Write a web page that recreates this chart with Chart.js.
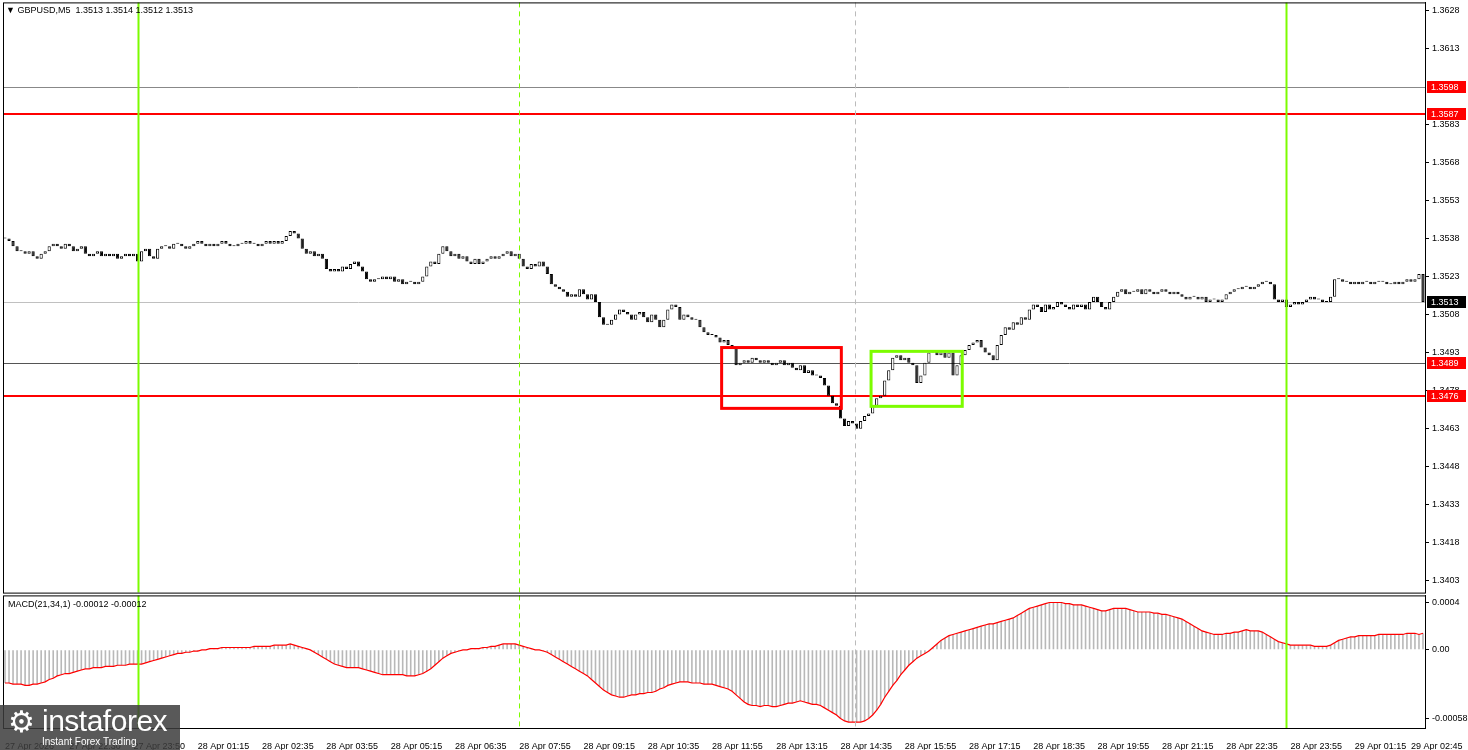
<!DOCTYPE html>
<html><head><meta charset="utf-8">
<script src="https://cdn.jsdelivr.net/npm/chart.js@4.4.1/dist/chart.umd.min.js"></script>
<style>
html,body{margin:0;padding:0;background:#fff;width:1468px;height:750px;overflow:hidden;font-family:"Liberation Sans",Arial,sans-serif;position:relative}
#c1{position:absolute;left:0;top:-6px}
#c2{position:absolute;left:0;top:587px}
.t{position:absolute;font-size:9px;color:#000;white-space:pre}
#logo{position:absolute;left:0;top:705px;width:180px;height:45px;background:rgba(60,60,60,0.85);color:#fff}
</style></head><body>
<canvas id="c1" width="1468" height="607"></canvas>
<canvas id="c2" width="1468" height="163"></canvas>
<div class="t" style="left:6px;top:5px">▼ GBPUSD,M5  1.3513 1.3514 1.3512 1.3513</div>
<div class="t" style="left:8px;top:599px">MACD(21,34,1) -0.00012 -0.00012</div>
<div id="logo"><div style="position:absolute;left:8px;top:2px;font-size:30px;line-height:30px">⚙</div><div style="position:absolute;left:42px;top:0px;font-size:30px;line-height:32px;letter-spacing:-0.5px">instaforex</div><div style="position:absolute;left:42px;top:31px;font-size:10px">Instant Forex Trading</div></div>
<script>
const closes=[1.3538,1.3537,1.3535,
1.3533,1.3533,1.3532,1.3533,1.3531,1.3530,1.3532,1.3533,
1.3535,1.3536,1.3535,1.3534,1.3536,1.3535,1.3533,1.3534,1.3535,
1.3532,1.3531,1.3532,1.3533,1.3531,1.3532,1.3531,1.3532,1.3530,1.3531,1.3532,1.3531,1.3532,1.3529,
1.3533,1.3534,1.3531,1.3530,
1.3534,1.3535,1.3535,1.3534,1.3536,1.3536,1.3535,1.3534,1.3535,1.3536,1.3537,1.3536,1.3535,1.3536,1.3535,1.3536,1.3537,1.3536,1.3535,1.3535,1.3536,1.3536,1.3537,1.3536,1.3536,1.3535,1.3536,1.3537,1.3536,1.3537,1.3536,1.3537,
1.3539,1.3541,1.3540,1.3538,
1.3534,1.3532,1.3533,1.3531,1.3532,1.3530,
1.3526,1.3525,1.3526,1.3525,1.3527,1.3526,
1.3528,1.3529,1.3527,1.3525,
1.3522,1.3521,1.3522,1.3522,1.3523,1.3522,1.3523,1.3521,1.3522,1.3520,1.3521,1.3521,1.3520,1.3521,1.3523,
1.3527,1.3529,1.3528,1.3532,1.3535,
1.3533,1.3531,1.3532,1.3530,1.3531,1.3529,1.3528,1.3530,1.3528,1.3529,1.3530,1.3531,1.3530,1.3531,1.3532,1.3533,1.3531,1.3532,
1.3530,1.3527,1.3526,1.3528,1.3527,1.3529,1.3527,1.3524,
1.3520,1.3519,1.3518,1.3517,1.3515,
1.3516,1.3515,1.3518,1.3516,1.3514,1.3516,1.3513,
1.3507,1.3504,1.3504,1.3506,1.3508,1.3510,
1.3509,1.3508,1.3506,1.3508,1.3509,1.3507,1.3505,1.3508,1.3506,1.3503,1.3506,1.3510,1.3512,
1.3511,1.3506,1.3508,1.3507,1.3506,1.3506,
1.3503,1.3501,1.3500,1.3500,1.3499,1.3497,1.3498,1.3496,1.3495,
1.3488,1.3489,1.3490,1.3489,1.3491,1.3490,1.3489,1.3490,1.3489,1.3488,1.3489,1.3490,1.3488,1.3489,1.3487,1.3486,1.3488,1.3485,1.3486,1.3484,
1.3484,1.3483,1.3480,1.3476,1.3473,1.3472,
1.3467,1.3464,1.3466,1.3465,1.3463,1.3466,1.3468,1.3469,
1.3472,1.3475,1.3476,1.3482,1.3486,
1.3491,1.3492,1.3490,1.3491,1.3489,1.3488,1.3481,1.3484,
1.3489,1.3493,1.3494,1.3492,1.3493,1.3491,1.3493,1.3484,1.3488,
1.3492,1.3494,1.3496,1.3497,1.3498,1.3495,1.3493,1.3492,1.3490,1.3496,
1.3500,1.3503,1.3502,1.3505,1.3504,1.3507,1.3506,1.3510,
1.3512,1.3511,1.3509,1.3512,1.3510,1.3511,1.3513,1.3512,1.3511,1.3510,1.3512,1.3511,1.3512,1.3510,1.3513,1.3515,
1.3513,1.3511,1.3510,1.3513,1.3515,1.3517,1.3518,1.3516,1.3517,
1.3517,1.3518,1.3516,1.3518,1.3517,1.3516,1.3517,1.3518,1.3517,1.3516,1.3517,1.3516,
1.3515,1.3514,1.3515,1.3515,1.3514,1.3515,1.3513,1.3514,1.3514,1.3513,1.3514,1.3516,1.3517,
1.3518,1.3518,1.3519,1.3519,1.3518,1.3519,1.3520,1.3521,1.3521,1.3520,1.3514,
1.3513,1.3514,1.3511,1.3512,1.3513,1.3512,1.3513,1.3514,1.3515,1.3514,1.3514,1.3513,1.3513,1.3515,
1.3522,1.3522,1.3521,1.3521,1.3520,1.3521,1.3520,1.3521,1.3521,1.3520,1.3521,1.3521,1.3521,1.3520,1.3520,1.3521,1.3520,1.3521,1.3522,1.3521,1.3522,1.3524,
1.3513];
const macdE5=[-28,-28,-29,-29,-29,-30,-30,-29,-29,
-28,-27,-25,-24,-22,-21,-20,-20,
-19,-18,-17,-16,-16,-15,-15,-15,-14,-14,-14,-13,-13,-13,-12,-12,-12,
-12,-11,-10,-9,-8,-7,-6,-5,-4,-3,-3,-2,-2,-1,-1,0,
0,1,1,1,2,2,2,2,2,2,2,2,3,3,3,3,3,4,4,4,4,5,4,
3,2,1,0,-2,-4,-6,-8,-10,-12,-13,-14,-15,-15,
-15,-15,-16,-17,-18,-19,-20,-21,-21,-21,-21,-21,-21,-22,-22,-22,-21,-20,
-18,-16,-13,-10,-7,-5,-3,-2,-1,0,0,1,
1,1,2,2,3,3,4,5,5,5,5,4,
3,2,1,0,0,-1,-2,-4,-6,-8,-10,-12,
-14,-16,-18,-20,-22,-25,-28,-31,-34,-36,-38,-39,
-40,-40,-39,-38,-38,-37,-37,-36,-36,-35,-33,-32,-30,-29,-28,-27,
-27,-27,-28,-28,-28,-29,-29,-29,-30,-31,-32,-33,-35,
-38,-41,-44,-46,-47,-47,-48,-47,-47,-48,-48,-47,-46,-45,-45,-44,
-43,-44,-45,-46,-46,-47,-49,-51,-53,-55,-58,-60,-61,-61,-61,-61,-60,
-58,-55,-51,-46,-40,-35,-30,-26,-21,-17,-13,-10,-7,-5,
-3,-1,2,5,8,10,12,13,14,15,16,17,
18,19,20,21,22,22,23,24,25,26,27,29,31,33,35,36,
37,38,39,40,40,40,40,39,39,38,38,38,37,36,35,34,
33,33,34,35,35,35,35,34,33,32,32,32,32,31,31,30,30,29,28,27,
26,24,22,20,18,16,15,14,13,13,13,14,14,15,15,16,17,16,
16,16,15,13,11,9,7,6,5,4,4,4,4,4,4,3,3,3,
3,4,6,8,9,10,11,11,12,12,12,12,12,13,13,13,13,13,13,13,14,14,14,13,14];
const timeLabels={0:"27 Apr 2026",16:"27 Apr 22:30",32:"27 Apr 23:50",48:"28 Apr 01:15",64:"28 Apr 02:35",80:"28 Apr 03:55",96:"28 Apr 05:15",112:"28 Apr 06:35",128:"28 Apr 07:55",144:"28 Apr 09:15",160:"28 Apr 10:35",176:"28 Apr 11:55",192:"28 Apr 13:15",208:"28 Apr 14:35",224:"28 Apr 15:55",240:"28 Apr 17:15",256:"28 Apr 18:35",272:"28 Apr 19:55",288:"28 Apr 21:15",304:"28 Apr 22:35",320:"28 Apr 23:55",336:"29 Apr 01:15",350:"29 Apr 02:45"};
const priceTicks=[1.3628,1.3613,1.3583,1.3568,1.3553,1.3538,1.3523,1.3508,1.3493,1.3478,1.3463,1.3448,1.3433,1.3418,1.3403];
const macdTicks=[0.0004,0,-0.00058];
const levels=[{v:1.3598,c:'#888',w:1},{v:1.3587,c:'#ff0000',w:2},{v:1.3489,c:'#555',w:1},{v:1.3476,c:'#ff0000',w:2},{v:1.3513,c:'#c0c0c0',w:1}];
const axisMarks=[{v:1.3598,bg:'#ff0000'},{v:1.3587,bg:'#ff0000'},{v:1.3489,bg:'#ff0000'},{v:1.3476,bg:'#ff0000'},{v:1.3513,bg:'#000'}];
const boxes=[{i0:178.4,i1:208.2,hi:1.34950,lo:1.34710,c:'#ff0000'},{i0:215.6,i1:238.3,hi:1.34935,lo:1.34718,c:'#7cfc00'}];
const vlines=[{i:33.2,c:'#7cfc00',dash:[],w:2},{i:127.9,c:'#7cfc00',dash:[5,4],w:1},{i:211.5,c:'#bbb',dash:[5,4],w:1},{i:318.8,c:'#7cfc00',dash:[],w:2}];

const N=Math.min(closes.length,macdE5.length);
const labels=[];for(let i=0;i<N;i++)labels.push(timeLabels[i]||'');
const bodies=[],bodyCol=[];
for(let i=0;i<N;i++){const o=i?closes[i-1]:closes[0];bodies.push([o,closes[i]]);bodyCol.push(closes[i]>o?'#fff':'#000');}
const macd=macdE5.slice(0,N).map(v=>v/100000);
const FONT={family:'"Liberation Sans", Arial',size:9};

function xFor(chart,i){const s=chart.scales.x;const a=s.getPixelForValue(Math.floor(i)),b=s.getPixelForValue(Math.floor(i)+1);return a+(b-a)*(i-Math.floor(i));}
const vlinePlugin={id:'vl',afterDatasetsDraw(chart){const ctx=chart.ctx,ca=chart.chartArea;ctx.save();
 for(const v of vlines){const x=Math.round(xFor(chart,v.i))+0.5;ctx.strokeStyle=v.c;ctx.lineWidth=v.w;ctx.setLineDash(v.dash);ctx.beginPath();ctx.moveTo(x,ca.top);ctx.lineTo(x,ca.bottom);ctx.stroke();}
 ctx.setLineDash([]);ctx.strokeStyle='#000';ctx.lineWidth=1;ctx.strokeRect(ca.left+0.5,ca.top+0.5,ca.right-ca.left,ca.bottom-ca.top);ctx.restore();}};
const mainPlugin={id:'mp',beforeDatasetsDraw(chart){const ctx=chart.ctx,ca=chart.chartArea,y=chart.scales.y;ctx.save();
 for(const l of levels){const py=Math.round(y.getPixelForValue(l.v))+(l.w===1?0.5:0);ctx.strokeStyle=l.c;ctx.lineWidth=l.w;ctx.beginPath();ctx.moveTo(ca.left,py);ctx.lineTo(ca.right,py);ctx.stroke();}
 ctx.restore();},
 afterDatasetsDraw(chart){const ctx=chart.ctx,y=chart.scales.y;ctx.save();
 for(const b of boxes){const x0=xFor(chart,b.i0),x1=xFor(chart,b.i1),y0=y.getPixelForValue(b.hi),y1=y.getPixelForValue(b.lo);ctx.strokeStyle=b.c;ctx.lineWidth=3;ctx.strokeRect(x0,y0,x1-x0,y1-y0);}
 ctx.restore();},
 afterDraw(chart){const ctx=chart.ctx,y=chart.scales.y;ctx.save();ctx.font='9px "Liberation Sans", Arial';ctx.textBaseline='middle';
 for(const m of axisMarks){const py=Math.round(y.getPixelForValue(m.v));ctx.fillStyle=m.bg;ctx.fillRect(1427,py-6,39,12);ctx.fillStyle='#fff';ctx.fillText(m.v.toFixed(4),1431,py+0.5);}
 ctx.restore();}};

new Chart(document.getElementById('c1'),{type:'bar',
 data:{labels,datasets:[{data:bodies,backgroundColor:bodyCol,borderColor:'#000',borderWidth:1,borderSkipped:false,minBarLength:1,barPercentage:0.8,categoryPercentage:1}]},
 options:{responsive:false,animation:false,events:[],layout:{padding:{left:3,top:0,bottom:0,right:0}},
  plugins:{legend:{display:false},tooltip:{enabled:false}},
  scales:{x:{display:false},
   y:{position:'right',min:1.33983,max:1.36312,afterFit(s){s.width=43;},afterBuildTicks(s){s.ticks=priceTicks.map(v=>({value:v}));},
    ticks:{font:FONT,color:'#000',padding:3,callback:v=>Number(v).toFixed(4)},
    grid:{drawOnChartArea:false,drawTicks:true,tickLength:4,color:'#000'},border:{display:true,color:'#000'}}}},
 plugins:[mainPlugin,vlinePlugin]});

new Chart(document.getElementById('c2'),{type:'bar',
 data:{labels,datasets:[
  {type:'line',data:macd,borderColor:'#ff0000',borderWidth:1.2,pointRadius:0,tension:0,order:0},
  {data:macd,backgroundColor:'#b8b8b8',barPercentage:0.4,categoryPercentage:1,order:1}]},
 options:{responsive:false,animation:false,events:[],layout:{padding:{left:3,top:0,bottom:0,right:0}},
  plugins:{legend:{display:false},tooltip:{enabled:false}},
  scales:{x:{afterFit(s){s.height=22;},grid:{display:false},border:{display:false},
    ticks:{autoSkip:false,maxRotation:0,minRotation:0,align:'start',font:FONT,color:'#000',padding:5,callback:(v,i)=>labels[i]}},
   y:{position:'right',min:-0.00066,max:0.00046,afterFit(s){s.width=43;},afterBuildTicks(s){s.ticks=macdTicks.map(v=>({value:v}));},
    ticks:{font:FONT,color:'#000',padding:3,callback:v=>v===0?'0.00':(v===0.0004?'0.0004':'-0.00058')},
    grid:{drawOnChartArea:false,drawTicks:true,tickLength:4,color:'#000'},border:{display:true,color:'#000'}}}},
 plugins:[vlinePlugin]});
</script></body></html>
